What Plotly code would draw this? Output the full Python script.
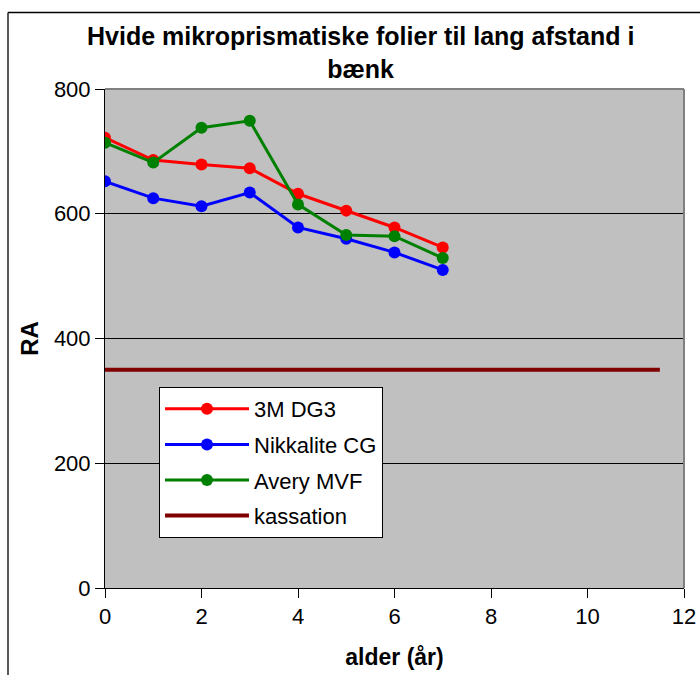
import plotly.graph_objects as go

years = [0, 1, 2, 3, 4, 5, 6, 7]
dg3_3m = [722, 686, 679, 673, 632, 605, 578, 546]
nikkalite_cg = [652, 625, 612, 634, 578, 560, 538, 510]
avery_mvf = [714, 682, 738, 749, 615, 566, 564, 529]
kassation_x = [0, 11.5]
kassation_y = [350, 350]
title_text = "<b>Hvide mikroprismatiske folier til lang afstand i<br>bænk</b>"

FONT = "Liberation Sans, Arial, sans-serif"

fig = go.Figure()
series = [
    ("3M DG3", dg3_3m, "#FF0000"),
    ("Nikkalite CG", nikkalite_cg, "#0000FF"),
    ("Avery MVF", avery_mvf, "#008000"),
]
for i, (name, vals, col) in enumerate(series):
    fig.add_trace(go.Scatter(
        x=years, y=vals, name=name, mode="lines+markers",
        line=dict(color=col, width=3),
        marker=dict(color=col, size=12),
        legendgroup=f"g{i}",
    ))
fig.add_trace(go.Scatter(
    x=kassation_x, y=kassation_y, name="kassation", mode="lines",
    line=dict(color="#800000", width=4), legendgroup="g3",
))

L, R, T, B = 105, 684, 89, 588
W, H = 700, 675
pw, ph = R - L, B - T

def px(x):
    return (x - L) / pw

def py(y):
    return (B - y) / ph

fig.update_layout(
    width=W, height=H,
    margin=dict(l=L, r=W - R, t=T, b=H - B, autoexpand=False),
    paper_bgcolor="white",
    plot_bgcolor="#C0C0C0",
    font=dict(family=FONT, color="black", size=22),
    xaxis=dict(
        range=[0, 12], dtick=2, tick0=0,
        showgrid=False, zeroline=False,
        showline=True, linecolor="black", linewidth=1,
        ticks="outside", ticklen=9, tickcolor="black",
        tickfont=dict(size=22),
        title=dict(text="<b>alder (år)</b>", font=dict(size=23), standoff=20),
    ),
    yaxis=dict(
        range=[0, 800], dtick=200, tick0=0,
        showgrid=True, gridcolor="black", gridwidth=1,
        zeroline=False,
        showline=True, linecolor="black", linewidth=1,
        ticks="outside", ticklen=9, tickcolor="black",
        tickfont=dict(size=22),
        title=dict(text="<b>RA</b>", font=dict(size=24), standoff=8),
    ),
    legend=dict(
        x=px(159), y=py(387), xanchor="left", yanchor="top",
        bgcolor="white", bordercolor="black", borderwidth=1,
        font=dict(size=22, family=FONT),
        tracegroupgap=4,
        itemwidth=84,
    ),
    annotations=[
        dict(text=title_text, xref="paper", yref="paper",
             x=px(360), y=py(53), xanchor="center", yanchor="middle",
             showarrow=False, font=dict(size=25, family=FONT)),
    ],
    shapes=[
        dict(type="line", xref="paper", yref="paper", x0=0, x1=1, y0=1, y1=1,
             line=dict(color="#808080", width=2), layer="above"),
        dict(type="line", xref="paper", yref="paper", x0=1, x1=1, y0=0, y1=1,
             line=dict(color="#808080", width=2), layer="above"),
        dict(type="line", xref="paper", yref="paper", x0=px(8), x1=px(720),
             y0=py(12.5), y1=py(12.5), line=dict(color="black", width=1.3)),
        dict(type="line", xref="paper", yref="paper", x0=px(8), x1=px(8),
             y0=py(12.5), y1=py(700), line=dict(color="black", width=1.3)),
    ],
)

fig.write_html("out.html")
